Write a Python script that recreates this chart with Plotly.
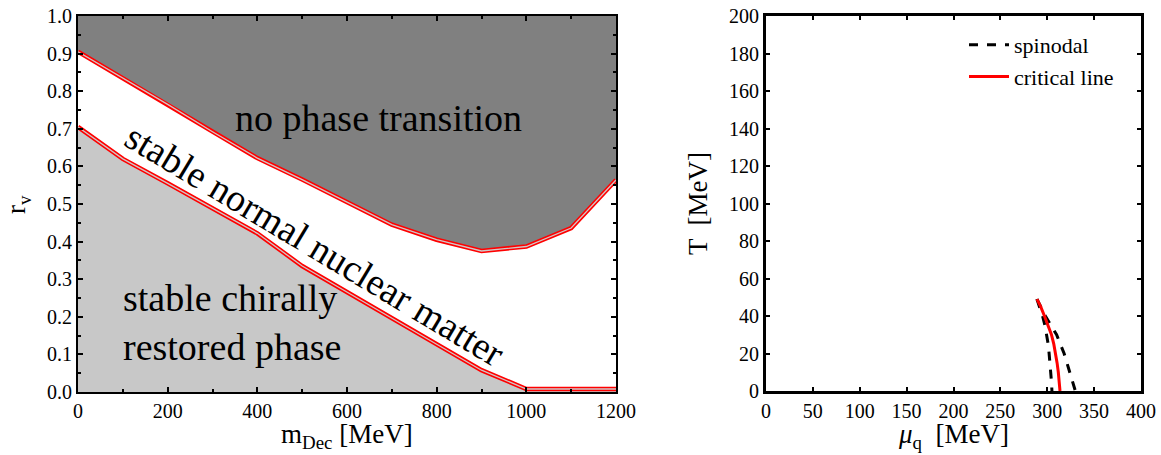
import plotly.graph_objects as go

# ---- left panel data ----
m_dec = [0, 100, 200, 300, 400, 500, 600, 700, 800, 900, 1000, 1100, 1200]
rv_upper = [0.905, 0.835, 0.765, 0.692, 0.622, 0.565, 0.505, 0.445, 0.405, 0.375, 0.387, 0.436, 0.564]
rv_lower = [0.705, 0.620, 0.555, 0.488, 0.422, 0.335, 0.265, 0.196, 0.127, 0.058, 0.008, 0.008, 0.008]
rv_top = [1.0] * len(m_dec)

# ---- right panel data ----
T_spin = [49, 45, 40, 35, 30, 25, 20, 15, 10, 5, 0]
mu_spin_inner = [289, 292, 295, 297.5, 299.5, 301, 302, 303, 304, 304.5, 305]
mu_spin_outer = [289, 293, 298, 304, 310, 314, 318, 321, 324, 327, 330]
T_crit = [49, 45, 40, 35, 30, 25, 20, 15, 10, 5, 0]
mu_crit = [289, 293, 297, 301, 304.5, 307, 309, 310.5, 311.8, 312.8, 313.6]

FONT = "Liberation Serif"
DARK = "#808080"
LIGHT = "#c8c8c8"

W, H = 1161, 455


def px(x):
    return x / W


def py(y):
    return 1 - y / H


fig = go.Figure()

# fills
fig.add_trace(go.Scatter(x=m_dec, y=rv_upper, mode="lines", line=dict(width=0, color=DARK),
                         showlegend=False, xaxis="x", yaxis="y", hoverinfo="skip"))
fig.add_trace(go.Scatter(x=m_dec, y=rv_top, mode="lines", line=dict(width=0, color=DARK),
                         fill="tonexty", fillcolor=DARK, showlegend=False, xaxis="x", yaxis="y",
                         hoverinfo="skip"))
fig.add_trace(go.Scatter(x=m_dec, y=rv_lower, mode="lines", line=dict(width=0, color=LIGHT),
                         fill="tozeroy", fillcolor=LIGHT, showlegend=False, xaxis="x", yaxis="y",
                         hoverinfo="skip"))
# double red boundary lines
for yy in (rv_upper, rv_lower):
    fig.add_trace(go.Scatter(x=m_dec, y=yy, mode="lines", line=dict(width=4.5, color="red"),
                             showlegend=False, xaxis="x", yaxis="y"))
    fig.add_trace(go.Scatter(x=m_dec, y=yy, mode="lines", line=dict(width=1.3, color="#d0c8c8"),
                             showlegend=False, xaxis="x", yaxis="y"))

# right panel curves
fig.add_trace(go.Scatter(x=mu_spin_inner, y=T_spin, mode="lines", name="spinodal",
                         line=dict(width=3, color="black", dash="dash"), legendgroup="s",
                         showlegend=True, xaxis="x2", yaxis="y2"))
fig.add_trace(go.Scatter(x=mu_spin_outer, y=T_spin, mode="lines", name="spinodal",
                         line=dict(width=3, color="black", dash="dash"), legendgroup="s",
                         showlegend=False, xaxis="x2", yaxis="y2"))
fig.add_trace(go.Scatter(x=mu_crit, y=T_crit, mode="lines", name="critical line",
                         line=dict(width=3, color="red"), showlegend=True, xaxis="x2", yaxis="y2"))

tickfont = dict(family=FONT, size=20, color="black")
titlefont = dict(family=FONT, size=27, color="black")

common = dict(showgrid=False, zeroline=False, tickfont=tickfont, automargin=False,
              ticklabeloverflow="allow", tickcolor="black", linecolor="black", mirror="ticks",
              showline=True, ticks="inside")

fig.update_layout(
    width=W, height=H,
    margin=dict(l=0, r=0, t=0, b=0, autoexpand=False),
    paper_bgcolor="white", plot_bgcolor="white",
    font=dict(family=FONT, color="black"),
    xaxis=dict(domain=[px(78), px(616)], range=[0, 1200], dtick=200, tick0=0,
               ticklen=5, tickwidth=1.5, linewidth=2,
               minor=dict(dtick=100, ticks="inside", ticklen=3, tickcolor="black"), **common),
    yaxis=dict(domain=[py(392), py(16)], range=[0, 1.0], dtick=0.1, tickformat=".1f",
               ticklen=5, tickwidth=1.5, linewidth=2,
               minor=dict(dtick=0.05, ticks="inside", ticklen=3, tickcolor="black"), **common),
    xaxis2=dict(domain=[px(766), px(1141)], range=[0, 400], dtick=50, anchor="y2",
                ticklen=4, tickwidth=2, linewidth=3, **common),
    yaxis2=dict(domain=[py(391), py(16)], range=[0, 200], dtick=20, anchor="x2",
                ticklen=4, tickwidth=2, linewidth=3, **common),
    legend=dict(x=px(964), y=py(24), xanchor="left", yanchor="top",
                bgcolor="rgba(0,0,0,0)", font=dict(family=FONT, size=22, color="black"),
                tracegroupgap=0, itemwidth=40),
    annotations=[
        # axis titles
        dict(text="m<sub>Dec</sub> [MeV]", x=px(347), y=py(436), xref="paper", yref="paper",
             xanchor="center", yanchor="middle", showarrow=False, font=titlefont),
        dict(text="<i>μ</i><sub>q</sub>  [MeV]", x=px(953), y=py(436), xref="paper",
             yref="paper", xanchor="center", yanchor="middle", showarrow=False, font=titlefont),
        dict(text="r<sub>v</sub>", x=px(18), y=py(205), xref="paper", yref="paper",
             xanchor="center", yanchor="middle", showarrow=False, textangle=-90, font=titlefont),
        dict(text="T  [MeV]", x=px(698), y=py(204), xref="paper", yref="paper",
             xanchor="center", yanchor="middle", showarrow=False, textangle=-90, font=titlefont),
        # region labels
        dict(text="no phase transition", x=671, y=0.729, xref="x", yref="y", showarrow=False,
             font=dict(family=FONT, size=38, color="black")),
        dict(text="stable normal nuclear matter", x=529, y=0.391, xref="x", yref="y",
             showarrow=False, textangle=31, font=dict(family=FONT, size=38, color="black")),
        dict(text="stable chirally<br>restored phase", x=343, y=0.186, xref="x", yref="y",
             showarrow=False, align="left", font=dict(family=FONT, size=38, color="black")),
    ],
)

fig.write_html(
    "out.html",
    config={"displayModeBar": False},
    post_script="document.body.style.margin='0';document.body.style.overflow='hidden';",
)
